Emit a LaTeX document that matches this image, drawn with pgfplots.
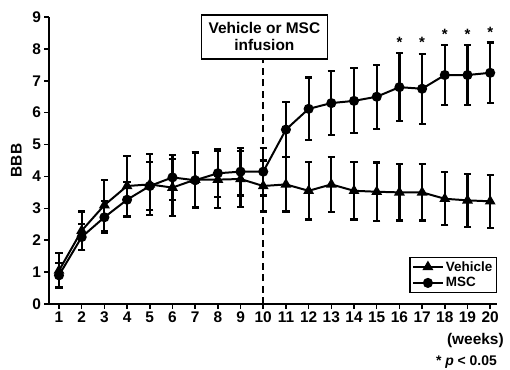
\documentclass[border=0pt]{standalone}
\usepackage{fontspec}
\setmainfont{Liberation Sans}
\usepackage{pgfplots}
\pgfplotsset{compat=1.18}
\usepackage{pgfplotstable}

\pgfplotstableread{
x y e
1 1.05 0.55
2 2.30 0.60
3 3.10 0.80
4 3.70 0.95
5 3.75 0.95
6 3.65 0.90
7 3.90 0.85
8 3.90 0.90
9 3.92 0.87
10 3.70 0.80
11 3.75 0.85
12 3.55 0.90
13 3.75 0.87
14 3.55 0.90
15 3.52 0.92
16 3.50 0.88
17 3.50 0.88
18 3.30 0.83
19 3.25 0.83
20 3.22 0.83
}\vehicle

\pgfplotstableread{
x y e
1 0.90 0.38
2 2.10 0.40
3 2.72 0.50
4 3.27 0.55
5 3.70 0.75
6 3.97 0.70
7 3.88 0.88
8 4.10 0.75
9 4.15 0.75
10 4.15 0.75
11 5.47 0.87
12 6.12 0.98
13 6.30 1.00
14 6.37 1.02
15 6.50 1.00
16 6.80 1.07
17 6.75 1.10
18 7.18 0.93
19 7.18 0.93
20 7.25 0.95
}\msc

\pgfplotstableread{
x y
16 8.22
17 8.22
18 8.47
19 8.47
20 8.52
}\stars

\pgfplotsset{
  myerr/.style={
    error bars/y dir=both, error bars/y explicit,
    error bars/error bar style={line width=2.2pt, black, solid},
    error bars/error mark options={rotate=90, mark size=3.6bp, line width=2.2pt, black},
  },
}

\begin{document}
\begin{tikzpicture}
\begin{axis}[
  at={(0,0)}, anchor=south west,
  scale only axis, width=448bp, height=287bp,
  xmin=0.56, xmax=20.3, ymin=0, ymax=9,
  axis lines=left,
  axis line style={-, line width=1.8pt},
  xtick={1,...,20}, ytick={0,...,9},
  tick style={black, line width=1.5pt},
  tick align=outside, major tick length=4.5bp,
  tick label style={font=\fontsize{15.5}{17}\selectfont\bfseries},
  /pgf/number format/assume math mode=true,
  ylabel={BBB},
  ylabel style={font=\fontsize{15.5}{17}\selectfont\bfseries},
  ylabel shift=4bp,
  clip=false,
  legend style={at={(rel axis cs:1,0.038)}, anchor=south east, draw=black,
    line width=1.5pt, font=\fontsize{13.5}{15}\selectfont\bfseries,
    cells={anchor=west}, row sep=1pt, inner sep=2pt},
  legend cell align=left,
  legend image code/.code={
    \draw[mark repeat=2, mark phase=2] plot coordinates {(0bp,0bp) (15bp,0bp) (30bp,0bp)};
  },
]
\addplot[black, line width=2pt, mark=triangle*, mark size=4.3bp,
  mark options={solid}, myerr]
  table[x=x, y=y, y error=e] {\vehicle};
\addlegendentry{Vehicle}
\addplot[black, line width=2pt, mark=*, mark size=4bp,
  mark options={solid}, myerr]
  table[x=x, y=y, y error=e] {\msc};
\addlegendentry{MSC}
\addplot[forget plot, only marks, mark=text, text mark={*}, text mark as node=true,
  text mark style={font=\fontsize{15}{17}\selectfont\bfseries, inner sep=0pt}]
  table[x=x, y=y] {\stars};
\addplot[forget plot, black, line width=1.6pt, dashed, dash pattern=on 7pt off 4.5pt]
  coordinates {(10,0) (10,7.68)};
\node[draw=black, fill=white, line width=1.6pt, align=center,
  minimum width=126bp, minimum height=44bp, inner sep=2pt,
  font=\fontsize{15.5}{17}\selectfont\bfseries]
  at (axis cs:10.05,8.38) {Vehicle or MSC\\infusion};
\node[anchor=east, font=\fontsize{15.5}{17}\selectfont\bfseries]
  at (axis cs:20.75,-1.13) {(weeks)};
\node[anchor=east, font=\fontsize{14}{16}\selectfont\bfseries]
  at (axis cs:20.45,-1.83) {* \textit{p} < 0.05};
\end{axis}
\pgfresetboundingbox
\path[use as bounding box] (-49bp,-66bp) rectangle (461bp,304bp);
\end{tikzpicture}
\end{document}
